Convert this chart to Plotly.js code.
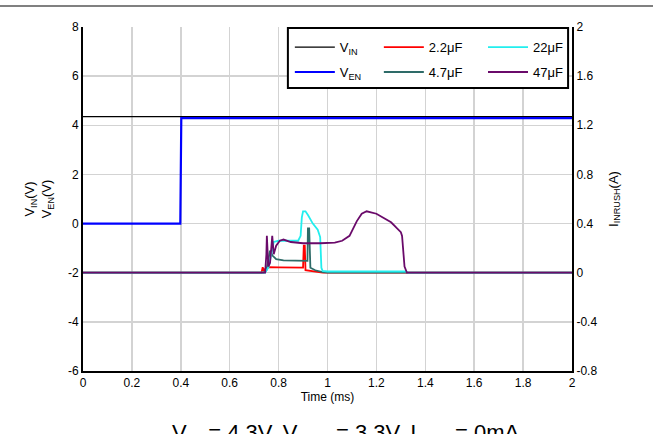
<!DOCTYPE html>
<html><head><meta charset="utf-8">
<script src="https://cdn.plot.ly/plotly-3.0.1.min.js"></script>
<style>html,body{margin:0;padding:0;background:#fff}#chart{width:653px;height:434px}</style>
</head><body><div id="chart"></div>
<script>
// ---- data (time in ms) ----
const tVin = [0, 2];
const vVin = [4.35, 4.35];
const tVen = [0, 0.398, 0.402, 2];
const vVen = [0, 0, 4.29, 4.29];

const t22u = [0, 0.73, 0.735, 0.74, 0.745, 0.76, 0.8, 0.9, 0.903, 0.907, 0.91, 0.93, 0.96, 0.98, 2];
const i22u = [0, 0, 0.045, 0.01, 0.03, 0.045, 0.043, 0.042, 0.22, 0.22, 0.02, 0.015, 0.005, 0, 0];

const t47u = [0, 0.74, 0.75, 0.755, 0.765, 0.775, 0.79, 0.82, 0.9, 0.918, 0.92, 0.925, 0.93, 0.95, 0.98, 1.0, 2];
const i47u = [0, 0, 0.02, 0.08, 0.18, 0.14, 0.11, 0.1, 0.097, 0.097, 0.36, 0.36, 0.04, 0.02, 0.005, 0, 0];

const t220u = [0, 0.745, 0.76, 0.77, 0.78, 0.8, 0.85, 0.88, 0.89, 0.895, 0.9, 0.91, 0.92, 0.94, 0.96, 0.97, 0.975, 0.98, 1.0, 1.32, 1.33, 2];
const i220u = [0, 0, 0.05, 0.15, 0.25, 0.26, 0.26, 0.26, 0.3, 0.45, 0.5, 0.5, 0.47, 0.4, 0.35, 0.29, 0.04, 0.015, 0.01, 0.01, 0, 0];

const t470u = [0, 0.745, 0.75, 0.752, 0.758, 0.765, 0.77, 0.774, 0.78, 0.79, 0.805, 0.82, 0.85, 0.9, 0.97, 1.03, 1.06, 1.09, 1.12, 1.14, 1.16, 1.2, 1.26, 1.3, 1.305, 1.315, 1.325, 2];
const i470u = [0, 0, 0.15, 0.30, 0.05, 0.08, 0.2, 0.30, 0.15, 0.22, 0.26, 0.27, 0.25, 0.24, 0.24, 0.245, 0.26, 0.3, 0.42, 0.48, 0.5, 0.48, 0.41, 0.33, 0.3, 0.05, 0, 0];

const xTicks = [0, 0.2, 0.4, 0.6, 0.8, 1, 1.2, 1.4, 1.6, 1.8, 2];
const xTickText = ["0", "0.2", "0.4", "0.6", "0.8", "1", "1.2", "1.4", "1.6", "1.8", "2"];
const yTicks = [-6, -4, -2, 0, 2, 4, 6, 8];
const yTickText = ["-6", "-4", "-2", "0", "2", "4", "6", "8"];
const y2Ticks = [-0.8, -0.4, 0, 0.4, 0.8, 1.2, 1.6, 2];
const y2TickText = ["-0.8", "-0.4", "0", "0.4", "0.8", "1.2", "1.6", "2"];

const FONT = "Liberation Sans, Arial, sans-serif";
const lw = 1.8;

const traces = [
  {x: tVin, y: vVin, name: "V<sub>IN</sub>", line: {color: "#000000", width: 1.3}, legend: "legend", legendgroup: "a"},
  {x: tVen, y: vVen, name: "V<sub>EN</sub>", line: {color: "#0000ff", width: 2.2}, legend: "legend", legendgroup: "b"},
  {x: t22u, y: i22u, name: "2.2μF", yaxis: "y2", line: {color: "#ff0000", width: lw}, legend: "legend2", legendgroup: "c"},
  {x: t47u, y: i47u, name: "4.7μF", yaxis: "y2", line: {color: "#2e6b68", width: lw}, legend: "legend2", legendgroup: "d"},
  {x: t220u, y: i220u, name: "22μF", yaxis: "y2", line: {color: "#22eeee", width: lw}, legend: "legend3", legendgroup: "e"},
  {x: t470u, y: i470u, name: "47μF", yaxis: "y2", line: {color: "#6a0a6a", width: lw}, legend: "legend3", legendgroup: "f"}
].map(t => Object.assign({type: "scatter", mode: "lines", hoverinfo: "skip"}, t));

const legBase = {
  bgcolor: "rgba(0,0,0,0)", borderwidth: 0, font: {family: FONT, size: 13, color: "#000"},
  orientation: "v", xanchor: "left", yanchor: "top", y: 0.985, tracegroupgap: 5, itemwidth: 40
};

const layout = {
  width: 653, height: 434,
  margin: {l: 83, r: 81, t: 27, b: 63},
  paper_bgcolor: "#fff", plot_bgcolor: "#fff",
  font: {family: FONT, size: 12, color: "#000"},
  showlegend: true,
  xaxis: {
    range: [0, 2], tickvals: xTicks, ticktext: xTickText, showgrid: true,
    gridcolor: "#d3d3d3", gridwidth: 1.5, zeroline: false, showline: true,
    linecolor: "#000", linewidth: 2, ticks: "", tickfont: {size: 12},
    title: {text: "Time (ms)", font: {size: 12}, standoff: 3}
  },
  yaxis: {
    range: [-6, 8], tickvals: yTicks, ticktext: yTickText, showgrid: true,
    gridcolor: "#d3d3d3", gridwidth: 1.5, zeroline: false, showline: true,
    linecolor: "#000", linewidth: 2, ticks: "", tickfont: {size: 12},
    title: {text: "V<sub>IN</sub>(V)<br>V<sub>EN</sub>(V)", font: {size: 13}, standoff: 13}
  },
  yaxis2: {
    range: [-0.8, 2], tickvals: y2Ticks, ticktext: y2TickText, overlaying: "y",
    side: "right", showgrid: false, zeroline: false, showline: true,
    linecolor: "#000", linewidth: 2, ticks: "", tickfont: {size: 12},
    title: {text: "I<sub>INRUSH</sub>(A)", font: {size: 13}, standoff: 12}
  },
  legend: Object.assign({}, legBase, {x: 0.423}),
  legend2: Object.assign({}, legBase, {x: 0.605}),
  legend3: Object.assign({}, legBase, {x: 0.818}),
  shapes: [
    {type: "rect", xref: "paper", yref: "paper", x0: 0.419, x1: 0.992, y0: 0.823, y1: 0.997,
     fillcolor: "#fff", line: {color: "#000", width: 2}, layer: "above"},
    {type: "line", xref: "paper", yref: "paper", x0: -0.17, x1: 1.166, y0: 1.061, y1: 1.061,
     line: {color: "#808080", width: 2}}
  ],
  annotations: [
    {xref: "paper", yref: "paper", x: 0.538, y: -0.137, xanchor: "center", yanchor: "top",
     showarrow: false, text: "V<sub>IN</sub> = 4.3V, V<sub>OUT</sub> = 3.3V, I<sub>OUT</sub> = 0mA",
     font: {size: 22, family: FONT, color: "#000"}}
  ]
};

Plotly.newPlot("chart", traces, layout, {staticPlot: true, displayModeBar: false});
</script>
</body></html>
